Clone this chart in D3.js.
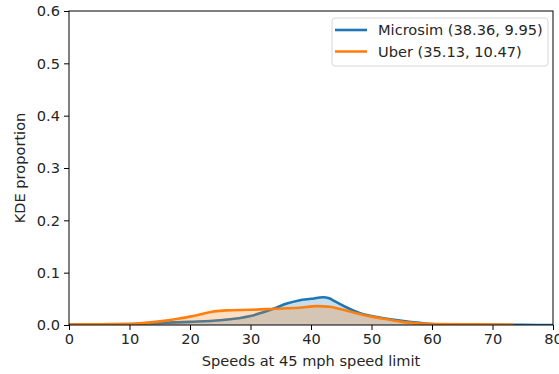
<!DOCTYPE html>
<html>
<head>
<meta charset="utf-8">
<script src="https://cdn.jsdelivr.net/npm/d3@7"></script>
<style>
  body { margin: 0; background: #fff; }
  text { font-family: "DejaVu Sans", sans-serif; fill: #262626; }
</style>
</head>
<body>
<div id="chart"></div>
<script>
var seriesNames = ["Microsim (38.36, 9.95)", "Uber (35.13, 10.47)"];
var seriesColors = ["#1f77b4", "#ff7f0e"];

var microX = [0, 5, 10, 15, 20, 25, 28, 30, 32, 34, 36, 38, 40, 42, 43, 44, 46, 48, 50, 52, 55, 58, 60, 65, 70, 75, 80];
var microY = [0.001, 0.0015, 0.002, 0.004, 0.006, 0.009, 0.013, 0.017, 0.024, 0.032, 0.041, 0.047, 0.050, 0.053, 0.051, 0.045, 0.033, 0.023, 0.017, 0.013, 0.008, 0.004, 0.002, 0.001, 0.0005, 0.0002, 0.0001];

var uberX = [0, 5, 10, 15, 18, 20, 22, 24, 26, 30, 34, 38, 41, 43, 45, 47, 50, 53, 55, 58, 60, 65, 70, 73.4];
var uberY = [0.001, 0.0015, 0.002, 0.007, 0.012, 0.016, 0.021, 0.026, 0.028, 0.029, 0.031, 0.033, 0.036, 0.035, 0.030, 0.024, 0.016, 0.010, 0.006, 0.003, 0.002, 0.0015, 0.001, 0.0005];

var xTicks = [0, 10, 20, 30, 40, 50, 60, 70, 80];
var yTicks = [0, 0.1, 0.2, 0.3, 0.4, 0.5, 0.6];

var W = 559, H = 374;
var plot = { left: 69, right: 553, top: 11, bottom: 325 };
var fs = "14.6px";

var svg = d3.select("#chart").append("svg")
  .attr("width", W).attr("height", H);

var x = d3.scaleLinear().domain([0, 80]).range([plot.left, plot.right]);
var y = d3.scaleLinear().domain([0, 0.6]).range([plot.bottom, plot.top]);

var series = [
  microX.map(function(v, i) { return [v, microY[i]]; }),
  uberX.map(function(v, i) { return [v, uberY[i]]; })
];

svg.append("clipPath").attr("id", "clip").append("rect")
  .attr("x", plot.left).attr("y", plot.top)
  .attr("width", plot.right - plot.left).attr("height", plot.bottom - plot.top);

var line = d3.line().x(function(d) { return x(d[0]); }).y(function(d) { return y(d[1]); })
  .curve(d3.curveMonotoneX);
var area = d3.area().x(function(d) { return x(d[0]); }).y0(y(0)).y1(function(d) { return y(d[1]); })
  .curve(d3.curveMonotoneX);

var g = svg.append("g").attr("clip-path", "url(#clip)");
series.forEach(function(s, i) {
  g.append("path").attr("d", line(s)).attr("fill", "none")
    .attr("stroke", seriesColors[i]).attr("stroke-width", 2.6);
  g.append("path").attr("d", area(s)).attr("fill", seriesColors[i]).attr("fill-opacity", 0.25);
});

// axes
var xAxis = d3.axisBottom(x).tickValues(xTicks).tickSize(5).tickPadding(4).tickFormat(d3.format("d"));
var yAxis = d3.axisLeft(y).tickValues(yTicks).tickSize(5).tickPadding(4).tickFormat(d3.format(".1f"));

var gx = svg.append("g").attr("transform", "translate(0," + plot.bottom + ")").call(xAxis);
var gy = svg.append("g").attr("transform", "translate(" + plot.left + ",0)").call(yAxis);
[gx, gy].forEach(function(a) {
  a.select(".domain").remove();
  a.selectAll("line").attr("stroke", "#000").attr("stroke-width", 1);
  a.selectAll("text").style("font-size", fs).attr("fill", "#262626")
    .style("font-family", "DejaVu Sans, sans-serif");
});

svg.append("rect")
  .attr("x", plot.left).attr("y", plot.top)
  .attr("width", plot.right - plot.left).attr("height", plot.bottom - plot.top)
  .attr("fill", "none").attr("stroke", "#000").attr("stroke-width", 1);

svg.append("text").attr("x", (plot.left + plot.right) / 2).attr("y", 366)
  .attr("text-anchor", "middle").style("font-size", fs)
  .text("Speeds at 45 mph speed limit");

svg.append("text").attr("transform", "translate(25," + ((plot.top + plot.bottom) / 2) + ") rotate(-90)")
  .attr("text-anchor", "middle").style("font-size", fs)
  .text("KDE proportion");

// legend
var leg = svg.append("g");
leg.append("rect").attr("x", 332).attr("y", 18).attr("width", 216).attr("height", 48)
  .attr("rx", 3).attr("fill", "#fff").attr("fill-opacity", 0.8)
  .attr("stroke", "#d6d6d6").attr("stroke-width", 1);
seriesNames.forEach(function(name, i) {
  var ly = 30 + i * 21.5;
  leg.append("line").attr("x1", 335).attr("x2", 367).attr("y1", ly).attr("y2", ly)
    .attr("stroke", seriesColors[i]).attr("stroke-width", 2.6);
  leg.append("text").attr("x", 378).attr("y", ly + 5.2).style("font-size", fs).text(name);
});
</script>
</body>
</html>
